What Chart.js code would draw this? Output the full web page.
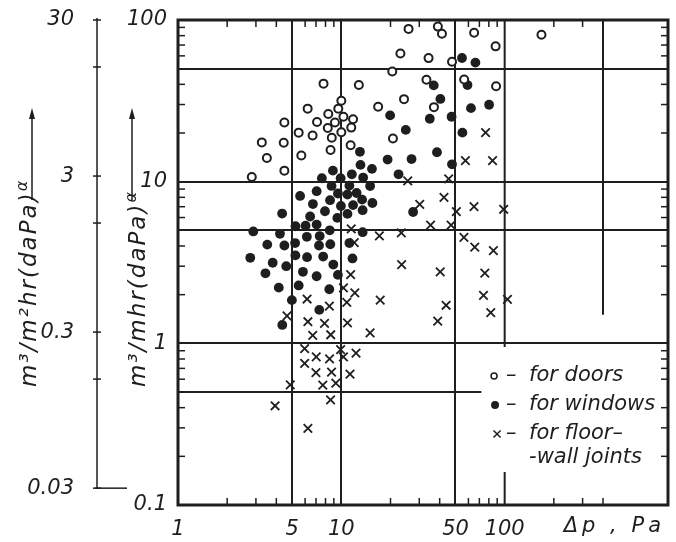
<!DOCTYPE html>
<html>
<head>
<meta charset="utf-8">
<script src="https://cdn.jsdelivr.net/npm/chart.js@4.4.1/dist/chart.umd.min.js"></script>
<style>
  html, body { margin: 0; padding: 0; background: #fff; }
  #wrap { width: 676px; height: 542px; position: relative; }
</style>
</head>
<body>
<div id="wrap"><canvas id="myChart"></canvas></div>
<script>
// leakage coefficients (x = pressure difference, Pa)
const doorX = [2.83, 3.26, 3.50, 4.48, 4.44, 4.48, 5.48, 5.69, 6.22, 6.67, 7.10, 7.78, 8.32, 8.26, 8.74, 9.14, 8.59, 9.58, 10.0, 10.3, 10.0,
  11.8, 11.5, 11.4, 12.8, 16.8, 20.7, 24.2, 20.5, 23.0, 25.8, 33.2, 34.2, 36.9, 39.0, 41.3, 47.6, 56.5, 65.0, 88.0, 88.6, 168];
const doorY = [10.7, 17.5, 14.0, 23.2, 17.4, 11.7, 20.1, 14.5, 28.3, 19.3, 23.4, 40.4, 26.2, 21.5, 18.7, 23.2, 15.7, 28.3, 31.7, 25.2, 20.2,
  24.3, 21.6, 16.8, 39.6, 29.1, 18.5, 32.4, 48.0, 62.1, 88.1, 42.7, 58.1, 28.9, 91.0, 82.2, 55.2, 42.8, 83.3, 68.7, 38.9, 81.1];

const windowX = [54.8, 66.2, 36.8, 59.2, 40.4, 34.8, 47.3, 62.2, 80.3, 55.1, 38.5, 47.6, 19.9, 24.8, 13.0, 19.2, 26.9, 22.4, 13.1, 15.4,
  8.88, 11.6, 13.6, 7.60, 9.90, 15.0, 8.71, 11.2, 7.06, 12.4, 10.9, 9.53, 13.4, 8.53, 5.59, 6.70, 11.8, 15.5, 7.94, 9.94,
  10.9, 4.34, 13.5, 9.45, 6.44, 27.5, 5.24, 6.04, 7.06, 8.49, 2.89, 4.21, 5.21, 6.15, 7.37, 8.56, 7.30, 13.5, 3.52, 4.48,
  11.2, 5.23, 6.17, 7.74, 2.77, 3.80, 4.60, 8.93, 11.7, 3.43, 5.82, 7.06, 9.53, 5.48, 4.14, 8.44, 4.98, 7.33, 4.35];
const windowY = [58.2, 54.5, 39.4, 39.6, 32.5, 24.5, 25.2, 28.5, 29.9, 20.1, 15.2, 12.8, 25.7, 20.9, 15.3, 13.7, 13.8, 11.1, 12.7, 12.0,
  11.7, 11.1, 10.6, 10.5, 10.5, 9.39, 9.41, 9.45, 8.73, 8.51, 8.33, 8.45, 7.74, 7.68, 8.16, 7.27, 7.16, 7.38, 6.56, 7.07,
  6.32, 6.35, 6.66, 5.97, 6.09, 6.49, 5.30, 5.34, 5.43, 5.00, 4.92, 4.76, 4.17, 4.56, 4.61, 4.10, 4.03, 4.87, 4.08, 4.03,
  4.17, 3.50, 3.41, 3.44, 3.38, 3.15, 3.00, 3.07, 3.35, 2.71, 2.77, 2.60, 2.65, 2.28, 2.21, 2.16, 1.85, 1.61, 1.30];

const jointX = [25.5, 30.2, 35.2, 17.1, 23.3, 11.5, 12.0, 76.4, 57.5, 84.3, 45.4, 42.5, 64.9, 50.6, 98.6, 47.0, 56.3, 65.6, 85.3, 23.4,
  40.3, 75.6, 11.4, 74.2, 104, 43.8, 38.9, 82.2, 6.17, 8.45, 4.65, 6.24, 7.89, 6.68, 8.61, 5.96, 5.96, 7.02, 8.47, 6.99,
  8.71, 4.87, 7.70, 9.25, 8.59, 3.93, 6.24, 10.3, 12.1, 10.8, 17.3, 10.9, 15.0, 9.90, 12.3, 10.3, 11.3];
const jointY = [10.1, 7.24, 5.39, 4.62, 4.82, 5.10, 4.20, 20.1, 13.5, 13.5, 10.4, 7.99, 7.01, 6.53, 6.75, 5.39, 4.52, 3.94, 3.75, 3.07,
  2.77, 2.72, 2.66, 1.98, 1.87, 1.72, 1.37, 1.55, 1.88, 1.70, 1.48, 1.36, 1.33, 1.12, 1.13, 0.928, 0.752, 0.825, 0.802, 0.659,
  0.663, 0.554, 0.552, 0.568, 0.447, 0.411, 0.298, 2.20, 2.05, 1.79, 1.85, 1.34, 1.16, 0.913, 0.871, 0.825, 0.645];

// axes
const xTicks = [1, 5, 10, 50, 100];
const xLabels = ['1', '5', '10', '50', '100'];
const yTicks = [0.1, 0.5, 1, 5, 10, 50, 100];
const yLabels = ['0.1', '', '1', '', '10', '', '100'];
const y2Ticks = [0.03, 0.15, 0.3, 1.5, 3, 15, 30];
const y2Labels = ['0.03', '', '0.3', '', '3', '', '30'];
const gridX = [5, 10, 50];
const gridY = [1, 5, 10, 50];
const minorX = [2, 3, 4, 6, 7, 8, 9, 20, 30, 40, 60, 70, 80, 90, 200, 300, 400];
const minorY = [0.2, 0.3, 0.4, 0.6, 0.7, 0.8, 0.9, 2, 3, 4, 6, 7, 8, 9, 20, 30, 40, 60, 70, 80, 90];

const legendLabels = ['for doors', 'for windows', 'for floor\u2013', '-wall joints'];
const xTitle = '\u0394p , Pa';
const yTitle = 'm\u00b3/mhr(daPa)';
const y2Title = 'm\u00b3/m\u00b2hr(daPa)';

const ink = '#1e1e1e';
const family = '"DejaVu Sans", sans-serif';
const italic = (size) => 'italic ' + size + 'px ' + family;

const toPoints = (xs, ys) => xs.map((v, i) => ({ x: v, y: ys[i] }));

const line = (ctx, x1, y1, x2, y2) => {
  ctx.beginPath();
  ctx.moveTo(x1, y1);
  ctx.lineTo(x2, y2);
  ctx.stroke();
};

// no extra room for the end labels, the frame sits at fixed padding
const noPad = s => { s.paddingTop = 0; s.paddingBottom = 0; };

const paperPlugin = {
  id: 'paper',
  beforeDatasetsDraw(chart) {
    const { ctx, chartArea: a, scales: { x, y } } = chart;
    ctx.save();
    ctx.strokeStyle = ink;
    ctx.lineWidth = 2;
    // broken grid lines
    const x100 = x.getPixelForValue(100);
    line(ctx, x100, a.top, x100, y.getPixelForValue(0.95));
    line(ctx, x100, y.getPixelForValue(0.16), x100, a.bottom);
    const x400 = x.getPixelForValue(400);
    line(ctx, x400, a.top, x400, y.getPixelForValue(1.5));
    const yHalf = y.getPixelForValue(0.5);
    line(ctx, a.left, yHalf, x.getPixelForValue(72), yHalf);
    // minor ticks inside the frame
    ctx.lineWidth = 1.5;
    minorX.forEach(v => {
      const px = x.getPixelForValue(v);
      line(ctx, px, a.bottom, px, a.bottom - 7);
      line(ctx, px, a.top, px, a.top + 7);
    });
    minorY.forEach(v => {
      const py = y.getPixelForValue(v);
      line(ctx, a.left, py, a.left + 7, py);
      line(ctx, a.right, py, a.right - 7, py);
    });
    ctx.restore();
  },
  afterDraw(chart) {
    const { ctx, chartArea: a, scales: { x, y, y2 } } = chart;
    ctx.save();
    ctx.strokeStyle = ink;
    ctx.fillStyle = ink;

    // frame
    ctx.lineWidth = 3;
    ctx.strokeRect(a.left, a.top, a.right - a.left, a.bottom - a.top);

    // second scale (per m2)
    ctx.lineWidth = 1.5;
    const ax = y2.right;
    line(ctx, ax, y2.getPixelForValue(30) - 2, ax, y2.getPixelForValue(0.03));
    y2Ticks.forEach(v => {
      const py = y2.getPixelForValue(v);
      line(ctx, ax - 4, py, ax + 4, py);
    });
    const yEnd = y2.getPixelForValue(0.03);
    line(ctx, ax - 2, yEnd, ax + 30, yEnd);

    // axis titles with arrows
    const drawTitle = (text, cx, bottom) => {
      ctx.save();
      ctx.translate(cx, bottom);
      ctx.rotate(-Math.PI / 2);
      ctx.font = italic(23);
      ctx.letterSpacing = '2px';
      ctx.textAlign = 'left';
      ctx.textBaseline = 'middle';
      ctx.fillText(text, 0, 0);
      const w = ctx.measureText(text).width;
      ctx.font = italic(16);
      ctx.fillText('\u03b1', w, -7);
      ctx.restore();
    };
    const drawArrow = (cx, y1, y2p) => {
      ctx.lineWidth = 1.5;
      line(ctx, cx, y1, cx, y2p + 8);
      ctx.beginPath();
      ctx.moveTo(cx, y2p);
      ctx.lineTo(cx - 3, y2p + 11);
      ctx.lineTo(cx + 3, y2p + 11);
      ctx.closePath();
      ctx.fill();
    };
    drawTitle(y2Title, y2.left + 30, a.top + 367);
    drawArrow(y2.left + 32, a.top + 180, a.top + 88);
    drawTitle(yTitle, y.left + 42, a.top + 367);
    drawArrow(y.left + 35, a.top + 180, a.top + 88);

    // x axis title, on the tick label row
    ctx.font = italic(21);
    ctx.letterSpacing = '4px';
    ctx.textAlign = 'right';
    ctx.textBaseline = 'middle';
    ctx.fillText(xTitle, a.right - 3, x.top + 22);
    ctx.letterSpacing = '0px';

    // legend
    const lx = a.left + (a.right - a.left) * 0.645;
    const rows = [a.top + 356, a.top + 385, a.top + 414, a.top + 438];
    const helpers = Chart.helpers;
    ctx.fillStyle = '#fff';
    ctx.lineWidth = 1.5;
    helpers.drawPoint(ctx, { pointStyle: 'circle', radius: 3, borderWidth: 1.5 }, lx, rows[0]);
    ctx.fillStyle = ink;
    helpers.drawPoint(ctx, { pointStyle: 'circle', radius: 4, borderWidth: 0 }, lx + 1, rows[1]);
    helpers.drawPoint(ctx, { pointStyle: 'crossRot', radius: 5, borderWidth: 1.5 }, lx + 3, rows[2]);
    ctx.font = italic(21);
    ctx.textAlign = 'left';
    ctx.textBaseline = 'middle';
    legendLabels.forEach((t, i) => {
      if (i < 3) ctx.fillText('\u2013', lx + 12, rows[i]);
      ctx.fillText(t, lx + 35, rows[i]);
    });
    ctx.restore();
  }
};

const tickFont = { family: family, size: 21, style: 'italic' };

const ctx = document.getElementById('myChart');
const myChart = new Chart(ctx, {
  type: 'scatter',
  data: {
    datasets: [{
      label: 'for doors',
      data: toPoints(doorX, doorY),
      pointStyle: 'circle',
      pointRadius: 4,
      pointHoverRadius: 4,
      pointBorderWidth: 2,
      pointBorderColor: ink,
      pointBackgroundColor: '#fff'
    }, {
      label: 'for windows',
      data: toPoints(windowX, windowY),
      pointStyle: 'circle',
      pointRadius: 4.9,
      pointHoverRadius: 4.9,
      pointBorderWidth: 0,
      pointBackgroundColor: ink
    }, {
      label: 'for floor-wall joints',
      data: toPoints(jointX, jointY),
      pointStyle: 'crossRot',
      pointRadius: 6,
      pointHoverRadius: 6,
      pointBorderWidth: 1.8,
      pointBorderColor: ink
    }]
  },
  options: {
    responsive: true,
    maintainAspectRatio: false,
    animation: false,
    layout: { padding: { top: 20, right: 8, bottom: 0, left: 0 } },
    plugins: {
      legend: { display: false },
      tooltip: { enabled: false }
    },
    scales: {
      x: {
        type: 'logarithmic',
        position: 'bottom',
        min: 1,
        max: 1000,
        afterBuildTicks: s => { s.ticks = xTicks.map(v => ({ value: v })); },
        afterFit: s => { s.height = 37; },
        ticks: {
          autoSkip: false,
          maxRotation: 0,
          padding: 12,
          color: ink,
          font: tickFont,
          callback: v => xLabels[xTicks.indexOf(v)]
        },
        grid: {
          drawTicks: false,
          lineWidth: 2,
          color: c => gridX.includes(c.tick && c.tick.value) ? ink : 'rgba(0,0,0,0)'
        },
        border: { display: false }
      },
      y: {
        type: 'logarithmic',
        position: 'left',
        min: 0.1,
        max: 100,
        afterBuildTicks: s => { s.ticks = yTicks.map(v => ({ value: v })); },
        afterFit: s => { s.width = 81; noPad(s); },
        ticks: {
          autoSkip: false,
          padding: 11,
          color: ink,
          font: tickFont,
          callback: v => yLabels[yTicks.indexOf(v)]
        },
        grid: {
          drawTicks: false,
          lineWidth: 2,
          color: c => gridY.includes(c.tick && c.tick.value) ? ink : 'rgba(0,0,0,0)'
        },
        border: { display: false }
      },
      y2: {
        type: 'logarithmic',
        position: 'left',
        weight: 1,
        min: 0.0234,
        max: 30,
        afterBuildTicks: s => { s.ticks = y2Ticks.map(v => ({ value: v })); },
        afterFit: s => { s.width = 97; noPad(s); },
        ticks: {
          autoSkip: false,
          padding: 15,
          color: ink,
          font: tickFont,
          callback: v => y2Labels[y2Ticks.indexOf(v)]
        },
        grid: { display: false, drawOnChartArea: false },
        border: { display: false }
      }
    }
  },
  plugins: [paperPlugin]
});
</script>
</body>
</html>
